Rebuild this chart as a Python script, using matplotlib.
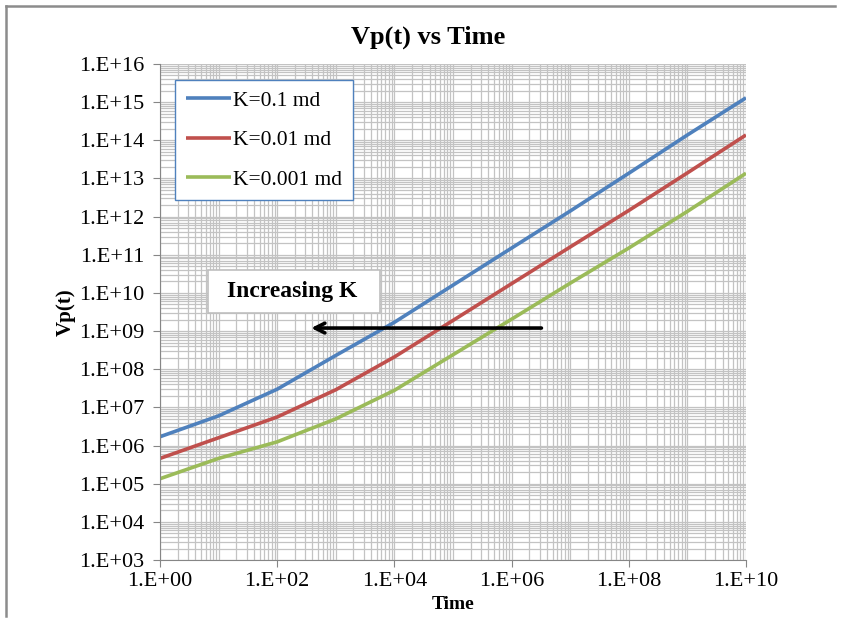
import matplotlib
matplotlib.use("Agg")
import matplotlib.pyplot as plt
from matplotlib.lines import Line2D
from matplotlib.patches import Rectangle
from matplotlib.ticker import LogLocator, NullFormatter

# ---- data ----
time = [1e0, 1e1, 1e2, 1e3, 1e4, 1e5, 1e6, 1e7, 1e8, 1e9, 1e10]
vp_k01 = [1.7e6, 6.0e6, 3.0e7, 2.3e8, 1.7e9, 1.6e10, 1.5e11, 1.4e12, 1.37e13, 1.38e14, 1.3e15]
vp_k001 = [4.6e5, 1.6e6, 5.6e6, 2.9e7, 2.1e8, 1.9e9, 1.75e10, 1.6e11, 1.45e12, 1.4e13, 1.38e14]
vp_k0001 = [1.35e5, 4.6e5, 1.25e6, 5.0e6, 2.8e7, 2.4e8, 2.05e9, 1.8e10, 1.5e11, 1.37e12, 1.37e13]
labels = ["K=0.1 md", "K=0.01 md", "K=0.001 md"]
colors = ["#4F81BD", "#C0504D", "#9BBB59"]

x_ticks = [1e0, 1e2, 1e4, 1e6, 1e8, 1e10]
x_ticklabels = ["1.E+00", "1.E+02", "1.E+04", "1.E+06", "1.E+08", "1.E+10"]
y_ticks = [10.0 ** e for e in range(3, 17)]
y_ticklabels = ["1.E+%02d" % e for e in range(3, 17)]

arrow_start = (3.6e6, 1.2e9)
arrow_end = (3.4e2, 1.2e9)

plt.rcParams["font.family"] = ["Liberation Serif", "DejaVu Serif"]

W, H = 841, 618
fig = plt.figure(figsize=(W / 100, H / 100), dpi=100)
ax = fig.add_axes([160 / W, 1 - 560 / H, (746 - 160) / W, (560 - 64) / H])

for ys, lab, c in zip([vp_k01, vp_k001, vp_k0001], labels, colors):
    ax.plot(time, ys, color=c, lw=2.6, label=lab, solid_capstyle="butt",
            solid_joinstyle="round")

ax.set_xscale("log")
ax.set_yscale("log")
ax.set_xlim(1e0, 1e10)
ax.set_ylim(1e3, 1e16)

grid_c = "#c3c3c3"
ax.set_xticks(x_ticks)
ax.set_xticklabels(x_ticklabels)
ax.set_yticks(y_ticks)
ax.set_yticklabels(y_ticklabels)
ax.xaxis.set_minor_locator(LogLocator(base=10, subs=list(range(1, 10)), numticks=100))
ax.yaxis.set_minor_locator(LogLocator(base=10, subs=list(range(2, 10)), numticks=100))
ax.xaxis.set_minor_formatter(NullFormatter())
ax.yaxis.set_minor_formatter(NullFormatter())
ax.grid(True, which="both", color=grid_c, lw=0.9)
ax.set_axisbelow(True)
ax.tick_params(which="minor", length=0)
ax.tick_params(which="major", direction="out", length=5, color="#868686", labelsize=16)
ax.tick_params(axis="y", pad=6)
ax.tick_params(axis="x", pad=4)

for s in ["top", "right"]:
    ax.spines[s].set_visible(False)
for s in ["left", "bottom"]:
    ax.spines[s].set_color("#868686")

fig.text(428 / W, 1 - 37 / H, "Vp(t) vs Time", fontsize=19, fontweight="bold",
         ha="center", va="center")
ax.set_xlabel("Time", fontsize=14, fontweight="bold", labelpad=3)
ax.set_ylabel("Vp(t)", fontsize=15, fontweight="bold", labelpad=3)

leg = ax.legend(loc="upper left", bbox_to_anchor=(15 / 586, (560 - 80) / 496), fontsize=15.5,
                frameon=True, fancybox=False, framealpha=1, edgecolor="#4F81BD",
                handlelength=2.1, handletextpad=0.1, labelspacing=0.9, borderpad=0.5,
                borderaxespad=0.0)
leg.get_frame().set_linewidth(1.0)

# "Increasing K" text box
fig.add_artist(Rectangle((208 / W, 1 - 313 / H), 172 / W, 43 / H, transform=fig.transFigure,
                         fc="white", ec="#bfbfbf", lw=1.2, zorder=3))
fig.text(292 / W, 1 - 291 / H, "Increasing K", fontsize=17, fontweight="bold",
         ha="center", va="center", zorder=4)

ax.annotate("", xy=arrow_end, xytext=arrow_start,
            arrowprops=dict(arrowstyle="->,head_length=0.7,head_width=0.35",
                            color="black", lw=2.6))

# outer frame (left/top)
fig.add_artist(Line2D([6 / W, 6 / W], [1 - 616 / H, 1 - 6 / H], color="#8c8c8c", lw=1.8,
                      transform=fig.transFigure))
fig.add_artist(Line2D([6 / W, 835 / W], [1 - 6 / H, 1 - 6 / H], color="#8c8c8c", lw=1.8,
                      transform=fig.transFigure))

fig.savefig("out.png", dpi=100)
